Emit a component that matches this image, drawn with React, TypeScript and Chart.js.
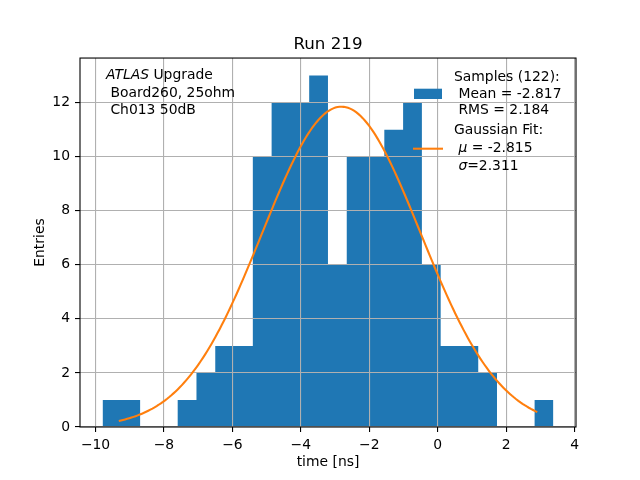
import React, { useEffect, useRef } from "react";
import { Chart, registerables } from "chart.js";

Chart.register(...registerables);

// ---- data ----
const BIN_START = -9.795;
const BIN_WIDTH = 0.549;
const COUNTS = [1, 1, 0, 0, 1, 2, 3, 3, 10, 12, 12, 13, 6, 10, 10, 11, 12, 6, 3, 3, 2, 0, 0, 1];
const X_TICKS = [-10, -8, -6, -4, -2, 0, 2, 4];
const Y_TICKS = [0, 2, 4, 6, 8, 10, 12];
const X_MIN = -10.454;
const X_MAX = 4.042;
const Y_MIN = 0;
const Y_MAX = 13.65;
const FIT_MU = -2.815;
const FIT_SIGMA = 2.311;
const FIT_AMP = 11.85;
const FIT_X_START = -9.32;
const FIT_X_END = 2.91;
const FIT_POINTS = 200;

const TITLE = "Run 219";
const X_LABEL = "time [ns]";
const Y_LABEL = "Entries";

type Run = { t: string; italic?: boolean };
const ANNOTATION_LINES: Run[][] = [
  [{ t: "ATLAS", italic: true }, { t: " Upgrade" }],
  [{ t: " Board260, 25ohm" }],
  [{ t: " Ch013 50dB" }],
];
const LEGEND_SAMPLES: Run[][] = [
  [{ t: "Samples (122):" }],
  [{ t: " Mean = -2.817" }],
  [{ t: " RMS = 2.184" }],
];
const LEGEND_FIT: Run[][] = [
  [{ t: "Gaussian Fit:" }],
  [{ t: " " }, { t: "\u03bc", italic: true }, { t: " = -2.815" }],
  [{ t: " " }, { t: "\u03c3", italic: true }, { t: "=2.311" }],
];

const BLUE = "#1f77b4";
const ORANGE = "#ff7f0e";
const GRID = "#b0b0b0";
const FONT = "'DejaVu Sans'";
const FS = 13.9;

function fmtTick(v: number): string {
  return v < 0 ? "\u2212" + Math.abs(v) : String(v);
}

function drawRuns(ctx: CanvasRenderingContext2D, x: number, y: number, runs: Run[]) {
  let cx = x;
  for (const r of runs) {
    ctx.font = (r.italic ? "italic " : "") + FS + "px " + FONT;
    ctx.fillText(r.t, cx, y);
    cx += ctx.measureText(r.t).width;
  }
}

const overlayPlugin = {
  id: "overlay",
  beforeDatasetDraw(_chart: any, args: any) {
    if (args.index === 1) return false;
    return true;
  },
  afterDraw(chart: any) {
    const { ctx, chartArea: a } = chart;
    // fit line drawn above the grid
    const meta = chart.getDatasetMeta(1);
    ctx.save();
    ctx.beginPath();
    ctx.rect(a.left, a.top, a.right - a.left, a.bottom - a.top);
    ctx.clip();
    meta.controller.draw();
    ctx.restore();

    // frame
    ctx.save();
    ctx.strokeStyle = "#000";
    ctx.lineWidth = 1.1;
    ctx.strokeRect(a.left, a.top, a.right - a.left, a.bottom - a.top);
    ctx.restore();

    ctx.save();
    ctx.fillStyle = "#000";
    ctx.textBaseline = "alphabetic";
    ctx.textAlign = "left";
    // annotation (upper left)
    const annY = [79.3, 96.8, 113.5];
    ANNOTATION_LINES.forEach((line, i) => drawRuns(ctx, a.left + 26, annY[i], line));

    // legend (upper right)
    const tx = a.right - 122;
    const sampY = [81.2, 97.7, 114.2];
    LEGEND_SAMPLES.forEach((line, i) => drawRuns(ctx, tx, sampY[i], line));
    const fitY = [133.7, 152, 170.3];
    LEGEND_FIT.forEach((line, i) => drawRuns(ctx, tx, fitY[i], line));
    ctx.fillStyle = BLUE;
    ctx.fillRect(a.right - 162, 88.7, 28, 10.3);
    ctx.strokeStyle = ORANGE;
    ctx.lineWidth = 2.08;
    ctx.beginPath();
    ctx.moveTo(a.right - 163, 148.7);
    ctx.lineTo(a.right - 133, 148.7);
    ctx.stroke();
    ctx.restore();
  },
};

export default function App() {
  const ref = useRef<HTMLCanvasElement | null>(null);

  useEffect(() => {
    if (!ref.current) return;
    Chart.defaults.font.family = FONT;
    Chart.defaults.font.size = FS;
    Chart.defaults.color = "#000";

    // histogram as a filled step outline through bin edges
    const histData = COUNTS.map((c, i) => ({ x: BIN_START + BIN_WIDTH * i, y: c }));
    histData.push({ x: BIN_START + BIN_WIDTH * COUNTS.length, y: COUNTS[COUNTS.length - 1] });

    const fitData: { x: number; y: number }[] = [];
    for (let i = 0; i < FIT_POINTS; i++) {
      const x = FIT_X_START + ((FIT_X_END - FIT_X_START) * i) / (FIT_POINTS - 1);
      const z = (x - FIT_MU) / FIT_SIGMA;
      fitData.push({ x, y: FIT_AMP * Math.exp(-0.5 * z * z) });
    }

    const gridOpts = {
      color: GRID,
      lineWidth: 1.1,
      drawTicks: true,
      tickLength: 5,
      tickColor: "#000",
      tickWidth: 1.1,
      offset: false,
      z: 1,
    };

    const chart = new Chart(ref.current, {
      type: "line",
      data: {
        datasets: [
          {
            label: "Samples",
            data: histData,
            stepped: "before",
            backgroundColor: BLUE,
            borderColor: BLUE,
            borderWidth: 0,
            pointRadius: 0,
            fill: "origin",
            order: 2,
          } as any,
          {
            label: "Gaussian Fit",
            data: fitData,
            borderColor: ORANGE,
            borderWidth: 2.08,
            pointRadius: 0,
            tension: 0,
            fill: false,
            order: 1,
          } as any,
        ],
      },
      options: {
        animation: false,
        responsive: false,
        layout: { padding: { left: 0, right: 64, top: 0, bottom: 0 } },
        plugins: {
          legend: { display: false },
          tooltip: { enabled: false },
          title: {
            display: true,
            text: TITLE,
            color: "#000",
            font: { size: 16.7, weight: "normal" },
            padding: { top: 34.5, bottom: 3.5 },
            fullSize: false,
          },
        },
        scales: {
          x: {
            type: "linear",
            min: X_MIN,
            max: X_MAX,
            offset: false,
            afterBuildTicks: (s: any) => {
              s.ticks = X_TICKS.map((v) => ({ value: v }));
            },
            afterFit: (s: any) => {
              s.height = 53;
            },
            ticks: {
              callback: (v: any) => fmtTick(Number(v)),
              padding: 5,
              maxRotation: 0,
              autoSkip: false,
              color: "#000",
            },
            grid: gridOpts,
            border: { display: false },
            title: {
              display: true,
              text: X_LABEL,
              color: "#000",
              padding: { top: 0, bottom: 9.2 },
            },
          },
          y: {
            type: "linear",
            min: Y_MIN,
            max: Y_MAX,
            afterBuildTicks: (s: any) => {
              s.ticks = Y_TICKS.map((v) => ({ value: v }));
            },
            afterFit: (s: any) => {
              s.width = 80;
            },
            ticks: {
              callback: (v: any) => fmtTick(Number(v)),
              padding: 5,
              autoSkip: false,
              color: "#000",
            },
            grid: gridOpts,
            border: { display: false },
            title: {
              display: true,
              text: Y_LABEL,
              color: "#000",
              padding: { top: 31.7, bottom: 0 },
            },
          },
        },
      } as any,
      plugins: [overlayPlugin],
    });

    return () => chart.destroy();
  }, []);

  return (
    <div style={{ position: "fixed", left: 0, top: 0, width: 640, height: 480, background: "#fff" }}>
      <canvas ref={ref} width={640} height={480} />
    </div>
  );
}
